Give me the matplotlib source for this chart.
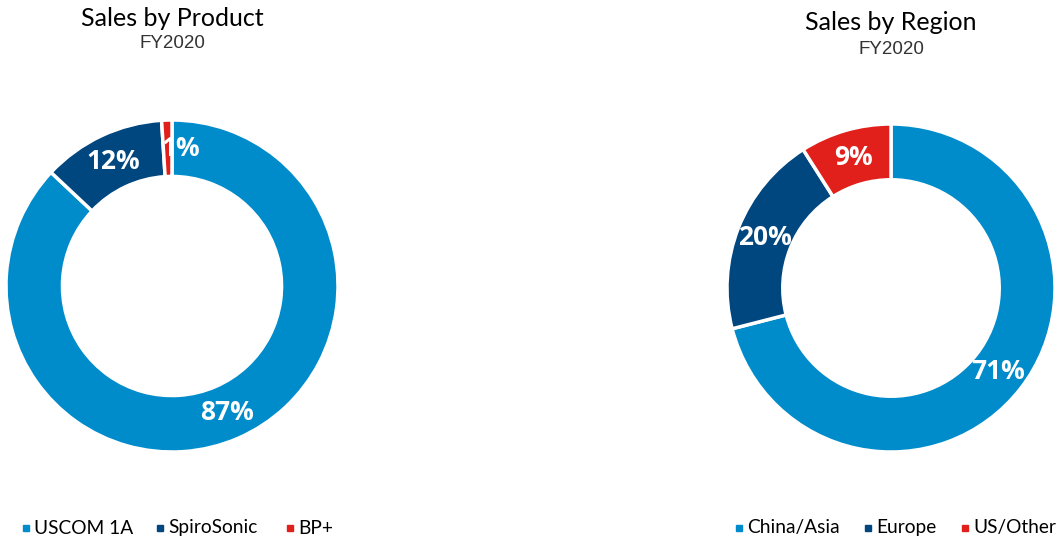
import matplotlib
matplotlib.use("Agg")
import matplotlib.pyplot as plt
import numpy as np

product_labels = ["USCOM 1A", "SpiroSonic", "BP+"]
product_values = [87, 12, 1]
region_labels = ["China/Asia", "Europe", "US/Other"]
region_values = [71, 20, 9]
colors = ["#008BCB", "#00467F", "#E1201B"]

W, H = 1059, 540
fig = plt.figure(figsize=(W / 100, H / 100), dpi=100)

def donut(cx, cy, r, values, labels, title, title_y, sub_y, legend_x, legend_gap):
    ax = fig.add_axes([(cx - r) / W, (H - cy - r) / H, 2 * r / W, 2 * r / H])
    ax.pie(values, colors=colors, startangle=90, counterclock=False,
           radius=1.0, wedgeprops=dict(width=0.34, edgecolor="white", linewidth=2.5))
    total = sum(values)
    ang = 90.0
    for v in values:
        mid = ang - v / total * 180.0
        ang -= v / total * 360.0
        rr = 0.83
        x = rr * np.cos(np.radians(mid))
        y = rr * np.sin(np.radians(mid))
        if v / total < 0.03:
            x += 0.08
        ax.text(x, y, f"{v}%", ha="center", va="center", color="white",
                fontsize=19, fontweight="bold", family="Open Sans")
    ax.set_xlim(-1, 1)
    ax.set_ylim(-1, 1)
    ax.set_aspect("equal")
    ax.axis("off")
    fig.text(cx / W, 1 - title_y / H, title, ha="center", va="center",
             fontsize=18, family="Lato", color="black")
    fig.text(cx / W, 1 - sub_y / H, "FY2020", ha="center", va="center",
             fontsize=13.5, family="Liberation Sans", color="#333333")
    x = legend_x
    for lab, c, g in zip(labels, colors, legend_gap):
        fig.patches.append(plt.Rectangle(((x) / W, 1 - 531 / H), 6 / W, 6 / H,
                                         transform=fig.transFigure, color=c))
        fig.text((x + 11) / W, 1 - 528 / H, lab, ha="left", va="center",
                 fontsize=13.8, family="Lato", color="black")
        x += g

donut(172, 286, 166, product_values, product_labels, "Sales by Product", 18, 44, 23, [134, 130, 0])
donut(891, 288, 164, region_values, region_labels, "Sales by Region", 23, 49, 736, [129, 97, 0])

fig.savefig("out.png", dpi=100)
